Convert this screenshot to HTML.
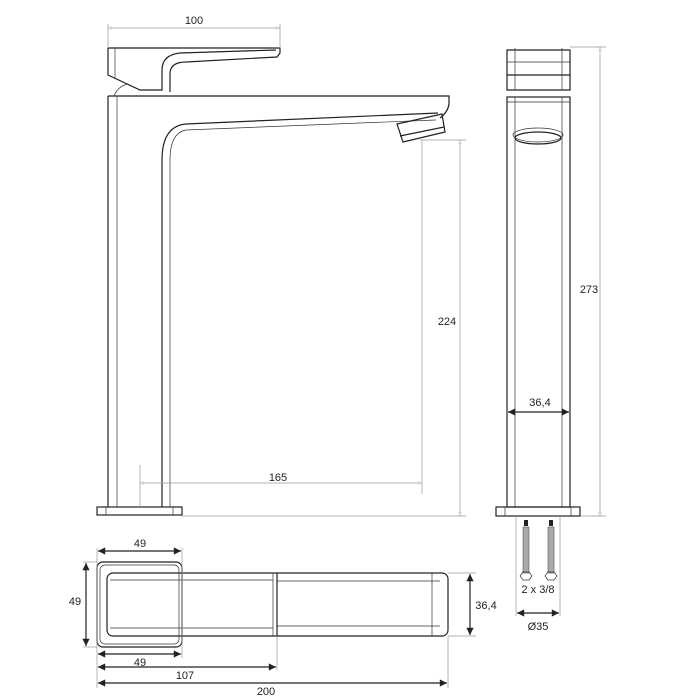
<!DOCTYPE html>
<html><head><meta charset="utf-8"><style>
body{margin:0;background:#fff}
svg{display:block}
text{font-family:"Liberation Sans",sans-serif;font-size:11px;fill:#222;text-anchor:middle}
.s{stroke:#222;stroke-width:1.2;fill:none}
.t{stroke:#333;stroke-width:0.7;fill:none}
.d{stroke:#999;stroke-width:0.7;fill:none}
</style></head><body>
<svg width="700" height="700" viewBox="0 0 700 700">
<defs>
<marker id="a" viewBox="0 0 10 10" refX="10" refY="5" markerWidth="9" markerHeight="6" orient="auto-start-reverse"><path d="M0,0 L10,5 L0,10 z" fill="#222"/></marker>
<marker id="o" viewBox="0 0 10 10" refX="10" refY="5" markerWidth="7" markerHeight="5" orient="auto-start-reverse"><path d="M0,1 L10,5 L0,9 z" fill="#fff" stroke="#888"/></marker>
</defs>
<!-- side view -->
<rect x="97" y="507" width="85" height="8" class="s"/>
<line x1="106" y1="507" x2="106" y2="515" class="t"/><line x1="173" y1="507" x2="173" y2="515" class="t"/>
<line x1="108" y1="96" x2="108" y2="507" class="s"/>
<line x1="117" y1="96" x2="117" y2="507" class="t"/>
<line x1="162" y1="160" x2="162" y2="507" class="s"/>
<line x1="170" y1="160" x2="170" y2="507" class="t"/>
<path d="M108,96 H449 V104 Q448,112 440,118" class="s"/>
<path d="M162,160 Q162,126 186,124 L438,113" class="s"/>
<path d="M170,160 Q170,133 186,130 L436,120" class="t"/>
<path d="M397,124 L442,114 L445,132 L403,142 Z" class="s"/>
<line x1="400" y1="136" x2="444" y2="127" class="s"/>
<!-- handle -->
<path d="M108,48 H280 V53 L277,57 L186,62 Q170,62 170,74 V92" class="s"/>
<path d="M108,48 V75 L140,90 H162 V70 Q162,55 180,53 L276,50" class="s"/>
<line x1="115" y1="48" x2="115" y2="78" class="t"/>
<path d="M114,96 Q118,86 128,84" class="t"/>
<!-- dims side -->
<line x1="108" y1="24" x2="108" y2="48" class="d"/><line x1="280" y1="24" x2="280" y2="48" class="d"/>
<line x1="108" y1="28" x2="280" y2="28" class="d" marker-start="url(#o)" marker-end="url(#o)"/>
<text x="194" y="24">100</text>
<line x1="422" y1="140" x2="422" y2="494" class="d"/>
<line x1="420" y1="140" x2="466" y2="140" class="d"/>
<line x1="182" y1="516" x2="466" y2="516" class="d"/>
<line x1="460" y1="140" x2="460" y2="516" class="d" marker-start="url(#o)" marker-end="url(#o)"/>
<text x="447" y="325">224</text>
<line x1="140" y1="465" x2="140" y2="507" class="d"/>
<line x1="140" y1="483" x2="422" y2="483" class="d" marker-start="url(#o)" marker-end="url(#o)"/>
<text x="278" y="481">165</text>
<!-- front view -->
<path d="M507,90 V50 H570 V90 Z" class="s"/>
<line x1="515" y1="48" x2="515" y2="90" class="t"/><line x1="562" y1="48" x2="562" y2="90" class="t"/>
<line x1="507" y1="62" x2="570" y2="62" class="t"/><line x1="507" y1="75" x2="570" y2="75" class="s"/>
<rect x="507" y="97" width="63" height="410" class="s"/>
<line x1="515" y1="97" x2="515" y2="507" class="t"/><line x1="562" y1="97" x2="562" y2="507" class="t"/>
<line x1="507" y1="102" x2="570" y2="102" class="t"/>
<ellipse cx="538" cy="138" rx="23" ry="6" class="s"/>
<ellipse cx="538" cy="135" rx="25" ry="7" class="t"/>
<rect x="496" y="507" width="84" height="9" class="s"/>
<line x1="505" y1="507" x2="505" y2="516" class="t"/><line x1="571" y1="507" x2="571" y2="516" class="t"/>
<line x1="570" y1="47" x2="606" y2="47" class="d"/>
<line x1="580" y1="516" x2="606" y2="516" class="d"/>
<line x1="600" y1="47" x2="600" y2="516" class="d" marker-start="url(#o)" marker-end="url(#o)"/>
<text x="589" y="293">273</text>
<line x1="508" y1="412" x2="569" y2="412" class="s" marker-start="url(#a)" marker-end="url(#a)"/>
<text x="540" y="406">36,4</text>
<!-- hoses -->
<rect x="524" y="520" width="4" height="6" fill="#222"/><rect x="549" y="520" width="4" height="6" fill="#222"/>
<rect x="523" y="527" width="6" height="46" fill="#aaa" stroke="#555" stroke-width="0.6"/>
<rect x="548" y="527" width="6" height="46" fill="#aaa" stroke="#555" stroke-width="0.6"/>
<path d="M520,576 l3,-4 h6 l3,4 l-3,4 h-6 z" class="t"/><path d="M545,576 l3,-4 h6 l3,4 l-3,4 h-6 z" class="t"/>
<text x="538" y="593">2 x 3/8</text>
<line x1="516" y1="516" x2="516" y2="616" class="d"/><line x1="560" y1="516" x2="560" y2="616" class="d"/>
<line x1="517" y1="613" x2="559" y2="613" class="s" marker-start="url(#a)" marker-end="url(#a)"/>
<text x="538" y="630">Ø35</text>
<!-- top view -->
<rect x="97" y="562" width="85" height="85" rx="6" class="s"/>
<rect x="100" y="565" width="79" height="79" rx="5" class="t"/>
<rect x="107" y="573" width="341" height="63" rx="6" class="s" fill="#fff"/>
<line x1="110" y1="580" x2="273" y2="580" class="t"/><line x1="110" y1="628" x2="273" y2="628" class="t"/>
<line x1="277" y1="573" x2="277" y2="636" class="s"/><line x1="273" y1="573" x2="273" y2="636" class="t"/>
<line x1="277" y1="581" x2="440" y2="581" class="t"/><line x1="277" y1="626" x2="440" y2="626" class="t"/>
<line x1="432" y1="573" x2="432" y2="636" class="t"/>
<!-- top dims -->
<line x1="97" y1="548" x2="97" y2="688" class="d"/>
<line x1="182" y1="548" x2="182" y2="658" class="d"/>
<line x1="277" y1="636" x2="277" y2="670" class="d"/>
<line x1="448" y1="636" x2="448" y2="688" class="d"/>
<line x1="83" y1="562" x2="97" y2="562" class="d"/><line x1="83" y1="647" x2="97" y2="647" class="d"/>
<line x1="448" y1="573" x2="476" y2="573" class="d"/><line x1="448" y1="636" x2="476" y2="636" class="d"/>
<line x1="98" y1="551" x2="181" y2="551" class="s" marker-start="url(#a)" marker-end="url(#a)"/>
<text x="140" y="547">49</text>
<line x1="86" y1="563" x2="86" y2="646" class="s" marker-start="url(#a)" marker-end="url(#a)"/>
<text x="75" y="605">49</text>
<line x1="470" y1="574" x2="470" y2="635" class="s" marker-start="url(#a)" marker-end="url(#a)"/>
<text x="486" y="609">36,4</text>
<line x1="98" y1="654" x2="181" y2="654" class="s" marker-start="url(#a)" marker-end="url(#a)"/>
<text x="140" y="666">49</text>
<line x1="98" y1="667" x2="276" y2="667" class="s" marker-start="url(#a)" marker-end="url(#a)"/>
<text x="185" y="679">107</text>
<line x1="98" y1="683" x2="447" y2="683" class="s" marker-start="url(#a)" marker-end="url(#a)"/>
<text x="266" y="695">200</text>
</svg>
</body></html>
